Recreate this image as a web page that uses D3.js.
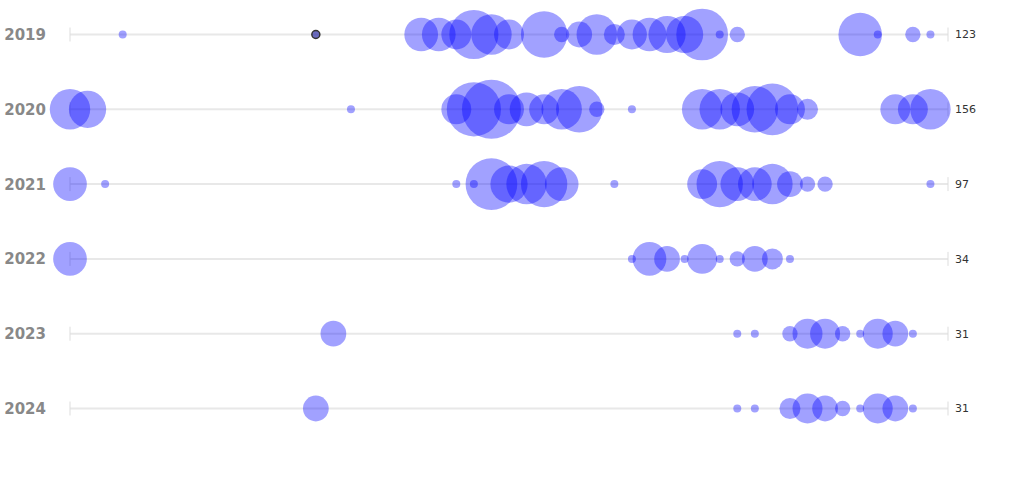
<!DOCTYPE html>
<html>
<head>
<meta charset="utf-8">
<script src="https://cdn.jsdelivr.net/npm/d3@7/dist/d3.min.js"></script>
<style>
  html, body { margin: 0; padding: 0; background: #fff; }
  svg { display: block; }
</style>
</head>
<body>
<div id="chart"></div>
<script>
// ---- data (week slot index 0..50, count per slot) ----
const years = ["2019", "2020", "2021", "2022", "2023", "2024"];
const weekDomain = [0, 50];

const slots2019  = [3, 14, 20, 21, 22, 23, 24, 25, 27, 28, 29, 30, 31, 32, 33, 34, 35, 36, 37, 38, 45, 46, 48, 49];
const counts2019 = [1,  1,  6,  6,  5, 11,  8,  5, 10,  2,  4,  8,  3,  5,  6,  7,  7, 12,  1,  2,  9,  1,  2,  1];

const slots2020  = [0, 1, 16, 22, 23, 24, 25, 26, 27, 28, 29, 30, 32, 36, 37, 38, 39, 40, 41, 42, 47, 48, 49];
const counts2020 = [8, 7,  1,  5, 13, 15,  5,  6,  5,  8, 10,  2,  1,  8,  8,  6, 10, 12,  5,  3,  5,  5,  8];

const slots2021  = [0, 2, 22, 23, 24, 25, 26, 27, 28, 31, 36, 37, 38, 39, 40, 41, 42, 43, 49];
const counts2021 = [6, 1,  1,  1, 12,  7,  8, 10,  6,  1,  5, 10,  6,  6,  8,  4,  2,  2,  1];

const slots2022  = [0, 32, 33, 34, 35, 36, 37, 38, 39, 40, 41];
const counts2022 = [6,  1,  6,  4,  1,  5,  1,  2,  4,  3,  1];

const slots2023  = [15, 38, 39, 41, 42, 43, 44, 45, 46, 47, 48];
const counts2023 = [ 4,  1,  1,  2,  5,  5,  2,  1,  5,  4,  1];

const slots2024  = [14, 38, 39, 41, 42, 43, 44, 45, 46, 47, 48];
const counts2024 = [ 4,  1,  1,  3,  5,  4,  2,  1,  5,  4,  1];

const highlighted = { year: "2019", slot: 14 };

// ---- build ----
const series = [
  [slots2019, counts2019], [slots2020, counts2020], [slots2021, counts2021],
  [slots2022, counts2022], [slots2023, counts2023], [slots2024, counts2024]
].map(([s, c], i) => ({
  year: years[i],
  points: s.map((slot, j) => ({ year: years[i], slot, count: c[j] }))
}));

const W = 1024, H = 478;
const svg = d3.select("#chart").append("svg").attr("width", W).attr("height", H);

const x = d3.scaleLinear().domain(weekDomain).range([70, 948]);
const y = d3.scalePoint().domain(years).range([34.5, 408.5]);
const maxCount = d3.max(series, s => d3.max(s.points, p => p.count));
const r = d3.scaleSqrt().domain([1, maxCount]).range([4, 29.5]);

const rows = svg.selectAll("g.row").data(series).join("g")
  .attr("class", "row")
  .attr("transform", d => `translate(0,${y(d.year)})`);

// baseline
rows.append("line")
  .attr("x1", x(weekDomain[0])).attr("x2", x(weekDomain[1]))
  .attr("y1", 0).attr("y2", 0)
  .attr("stroke", "#e8e8e8").attr("stroke-width", 2);

// end ticks
rows.selectAll("line.tick").data(weekDomain).join("line")
  .attr("class", "tick")
  .attr("x1", d => x(d)).attr("x2", d => x(d))
  .attr("y1", -7).attr("y2", 7)
  .attr("stroke", "#dddddd").attr("stroke-width", 1);

// year labels
rows.append("text")
  .attr("x", 46).attr("y", 0).attr("dy", "0.37em")
  .attr("text-anchor", "end")
  .attr("font-family", "'DejaVu Sans', Verdana, sans-serif")
  .attr("font-weight", "bold")
  .attr("font-size", 15)
  .attr("fill", "#888888")
  .text(d => d.year);

// totals
rows.append("text")
  .attr("x", 955).attr("y", 0).attr("dy", "0.36em")
  .attr("text-anchor", "start")
  .attr("font-family", "'DejaVu Sans', Verdana, sans-serif")
  .attr("font-size", 11)
  .attr("fill", "#333333")
  .text(d => d3.sum(d.points, p => p.count));

// bubbles
const isHi = d => d.year === highlighted.year && d.slot === highlighted.slot;
rows.selectAll("circle").data(d => d.points).join("circle")
  .attr("cx", d => x(d.slot))
  .attr("cy", 0)
  .attr("r", d => r(d.count))
  .attr("fill", d => isHi(d) ? "#3a3aa8" : "#0000ff")
  .attr("fill-opacity", d => isHi(d) ? 0.75 : 0.37)
  .attr("stroke", d => isHi(d) ? "#333333" : "none")
  .attr("stroke-width", 1.5);
</script>
</body>
</html>
